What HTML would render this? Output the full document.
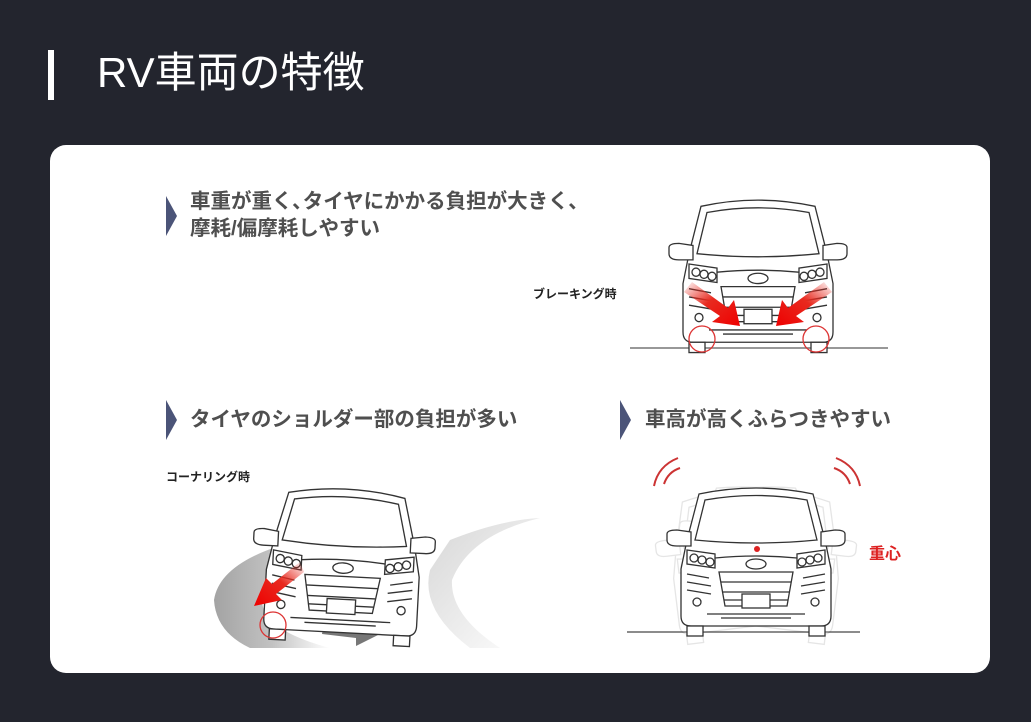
<!DOCTYPE html>
<html><head><meta charset="utf-8"><style>
html,body{margin:0;padding:0;background:#23252e;width:1031px;height:722px;overflow:hidden;font-family:"Liberation Sans","Noto Sans CJK JP",sans-serif}
.bar{position:absolute;left:48px;top:50px;width:6px;height:50px;background:#fff}
.title{position:absolute;left:97px;top:45px;color:#fff;font-size:42px;line-height:56px}
.card{position:absolute;left:50px;top:145px;width:940px;height:528px;background:#fff;border-radius:16px}
.h{position:absolute;color:#4f4f4f;font-size:20.5px;font-weight:bold;line-height:27px}
.tri{position:absolute;width:0;height:0;border-top:20px solid transparent;border-bottom:20px solid transparent;border-left:11px solid #4b5478}
.lbl{position:absolute;font-size:12px;font-weight:bold;color:#222}
svg{position:absolute;left:0;top:0}
</style></head><body>
<div class="bar"></div>
<div class="title">RV車両の特徴</div>
<div class="card"></div>
<svg width="1031" height="722" viewBox="0 0 1031 722">
<defs>
<linearGradient id="road" x1="0" y1="0" x2="1" y2="0"><stop offset="0" stop-color="#999"/><stop offset="0.5" stop-color="#bbb"/><stop offset="1" stop-color="#fff"/></linearGradient>
<linearGradient id="road2" x1="0" y1="0" x2="1" y2="1"><stop offset="0" stop-color="#bbb"/><stop offset="1" stop-color="#fff"/></linearGradient>
<linearGradient id="ra1" x1="0" y1="0" x2="1" y2="1"><stop offset="0" stop-color="#e82a1f" stop-opacity="0"/><stop offset="0.45" stop-color="#e82a1f"/><stop offset="1" stop-color="#e00"/></linearGradient>
<linearGradient id="ra2" x1="1" y1="0" x2="0" y2="1"><stop offset="0" stop-color="#e82a1f" stop-opacity="0"/><stop offset="0.45" stop-color="#e82a1f"/><stop offset="1" stop-color="#e00"/></linearGradient>
<g id="car" fill="#fff" stroke="#333" stroke-width="1.3">
<path d="M18,10 Q75,-2 132,10 L144,56 L150,85 L150,132 Q150,142 140,142 L10,142 Q0,142 0,132 L0,85 L6,56 Z"/>
<path d="M24,16 Q75,7 126,16 L136,56 Q75,62 14,56 Z"/>
<path d="M-14,50 Q-14,46 -4,46 L10,48 L10,62 L-4,62 Q-14,62 -14,56 Z"/><path d="M164,50 Q164,46 154,46 L140,48 L140,62 L154,62 Q164,62 164,56 Z"/>
<rect x="6" y="142" width="16" height="10"/><rect x="128" y="142" width="16" height="10"/>
<path d="M6,66 L34,70 L34,84 L6,80 Z"/><path d="M144,66 L116,70 L116,84 L144,80 Z"/>
<circle cx="13" cy="74" r="4"/><circle cx="21" cy="76" r="4"/><circle cx="29" cy="78" r="4"/>
<circle cx="137" cy="74" r="4"/><circle cx="129" cy="76" r="4"/><circle cx="121" cy="78" r="4"/>
<path d="M34,74 Q75,70 116,74"/>
<ellipse cx="75" cy="80" rx="10" ry="5"/>
<path d="M38,88 L112,88 L106,122 L44,122 Z"/>
<path d="M40,98 L110,98 M42,108 L108,108 M43,116 L107,116" fill="none"/>
<rect x="61" y="110" width="28" height="14"/>
<path d="M6,90 L28,94 M6,98 L30,102 M6,106 L30,110 M144,90 L122,94 M144,98 L120,102 M144,106 L120,110" fill="none"/>
<circle cx="16" cy="118" r="4"/><circle cx="134" cy="118" r="4"/>
<path d="M26,130 L124,130 M40,134 L110,134" fill="none"/>
</g>
</defs>
<line x1="630" y1="348" x2="888" y2="348" stroke="#777" stroke-width="1.5"/>
<use href="#car" transform="translate(683,196) scale(1,1.03)"/>
<path d="M692,282 L728,308 L734,300 L740,326 L712,322 L720,316 L684,292 Z" fill="url(#ra1)"/>
<path d="M824,282 L788,308 L782,300 L776,326 L804,322 L796,316 L832,292 Z" fill="url(#ra2)"/>
<circle cx="702" cy="339" r="13" fill="none" stroke="#d33" stroke-width="1.3"/>
<circle cx="816" cy="339" r="13" fill="none" stroke="#d33" stroke-width="1.3"/>
<path d="M300,540 Q220,560 214,600 Q216,632 250,648 L330,648 Q262,630 262,600 Q270,565 330,545 Z" fill="url(#road)" opacity="0.9"/>
<path d="M450,540 Q500,520 540,518 Q470,535 452,580 Q450,615 500,648 L470,648 Q420,610 430,570 Z" fill="url(#road2)" opacity="0.6"/>
<path d="M324,622 L360,628 L362,620 L380,634 L356,646 L356,638 L322,634 Z" fill="#777"/>
<use href="#car" transform="translate(271,481) rotate(3) scale(1.02,1.04)"/>
<path d="M300,562 L272,584 L266,578 L254,606 L282,600 L276,594 L304,572 Z" fill="url(#ra2)"/>
<circle cx="273" cy="625" r="13" fill="none" stroke="#d33" stroke-width="1.3"/>
<line x1="627" y1="632" x2="860" y2="632" stroke="#666" stroke-width="1.5"/>
<g opacity="0.12">
<use href="#car" transform="translate(681,484) rotate(-7 75 150)"/>
<use href="#car" transform="translate(681,484) rotate(7 75 150)"/>
</g>
<use href="#car" transform="translate(681,484)"/>
<circle cx="757" cy="549" r="3" fill="#d22"/>
<path d="M654,486 Q658,466 678,458 M664,484 Q668,472 680,468" fill="none" stroke="#c33" stroke-width="2"/>
<path d="M860,486 Q856,466 836,458 M850,484 Q846,472 834,468" fill="none" stroke="#c33" stroke-width="2"/>
</svg>
<div class="tri" style="left:166px;top:196px"></div>
<div class="h" style="left:190px;top:188px">車重が重く､タイヤにかかる負担が大きく､<br>摩耗/偏摩耗しやすい</div>
<div class="tri" style="left:166px;top:400px"></div>
<div class="h" style="left:190px;top:406px">タイヤのショルダー部の負担が多い</div>
<div class="tri" style="left:620px;top:400px"></div>
<div class="h" style="left:645px;top:406px">車高が高くふらつきやすい</div>
<div class="lbl" style="left:533px;top:285px">ブレーキング時</div>
<div class="lbl" style="left:166px;top:468px">コーナリング時</div>
<div style="position:absolute;left:869px;top:540px;color:#d22;font-size:16px;font-weight:bold">重心</div>
</body></html>
